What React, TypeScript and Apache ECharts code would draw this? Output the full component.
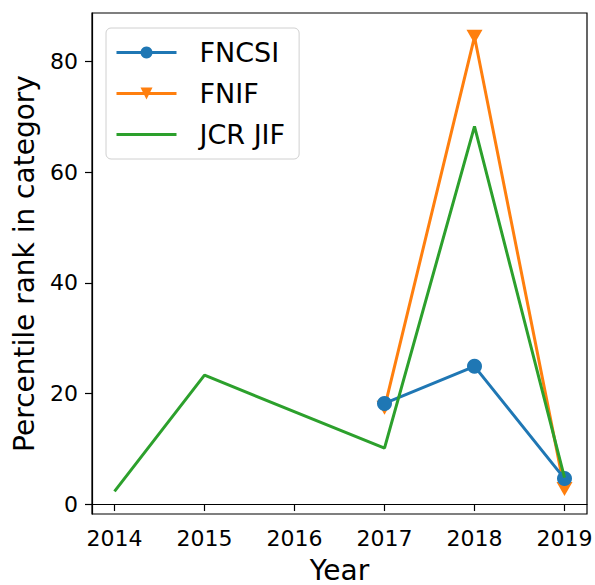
import React, { useEffect, useRef } from "react";
import * as echarts from "echarts";

const years = [2014, 2015, 2016, 2017, 2018, 2019];
const yTicks = [0, 20, 40, 60, 80];
const fncsi: [number, number][] = [
  [2017, 18.2],
  [2018, 24.9],
  [2019, 4.6],
];
const fnif: [number, number][] = [
  [2017, 17.4],
  [2018, 84.5],
  [2019, 2.7],
];
const jcrJif: [number, number][] = [
  [2014, 2.3],
  [2015, 23.3],
  [2017, 10.1],
  [2018, 68.3],
  [2019, 4.8],
];

const FONT = "DejaVu Sans";

export default function App() {
  const ref = useRef<HTMLDivElement>(null);
  useEffect(() => {
    if (!ref.current) return;
    const chart = echarts.init(ref.current, null, { renderer: "svg" });
    chart.setOption({
      animation: false,
      textStyle: { fontFamily: FONT },
      grid: {
        left: 92,
        right: 8,
        top: 13,
        bottom: 71,
        containLabel: false,
        outerBoundsMode: "none",
        show: true,
        borderColor: "#000",
        borderWidth: 1.2,
        backgroundColor: "#fff",
      },
      legend: {
        orient: "vertical",
        left: 106,
        top: 28,
        padding: [11, 14, 11, 9],
        itemWidth: 60,
        itemHeight: 15,
        itemGap: 14,
        borderColor: "#d0d0d0",
        borderWidth: 1,
        borderRadius: 5,
        backgroundColor: "rgba(255,255,255,0.8)",
        lineStyle: { width: 3 },
        textStyle: { fontSize: 27, color: "#000", fontFamily: FONT, padding: [0, 0, 0, 18] },
        data: [
          { name: "FNCSI" },
          { name: "FNIF" },
          { name: "JCR JIF", itemStyle: { opacity: 0 } },
        ],
      },
      xAxis: {
        type: "value",
        min: 2013.75,
        max: 2019.25,
        name: "Year",
        nameLocation: "middle",
        nameGap: 42,
        nameTextStyle: { fontSize: 28, color: "#000", fontFamily: FONT, lineHeight: 28 },
        splitLine: { show: false },
        axisLine: { show: true, lineStyle: { color: "#000", width: 1.2 } },
        axisTick: {
          show: true,
          length: 7,
          inside: false,
          customValues: years,
          lineStyle: { color: "#000", width: 1.2 },
        },
        axisLabel: {
          customValues: years,
          fontSize: 22,
          color: "#000",
          margin: 13,
          fontFamily: FONT,
          formatter: (v: number) => String(Math.round(v)),
        },
      },
      yAxis: {
        type: "value",
        min: -1.8,
        max: 88.8,
        name: "Percentile rank in category",
        nameLocation: "middle",
        nameGap: 54,
        nameTextStyle: { fontSize: 28, color: "#000", fontFamily: FONT },
        splitLine: { show: false },
        axisLine: { show: true, lineStyle: { color: "#000", width: 1.2 } },
        axisTick: {
          show: true,
          length: 7,
          customValues: yTicks,
          lineStyle: { color: "#000", width: 1.2 },
        },
        axisLabel: {
          customValues: yTicks,
          fontSize: 22,
          color: "#000",
          margin: 14,
          fontFamily: FONT,
        },
      },
      series: [
        {
          name: "FNCSI",
          type: "line",
          data: fncsi,
          symbol: "circle",
          symbolSize: 15,
          lineStyle: { color: "#1f77b4", width: 3 },
          itemStyle: { color: "#1f77b4" },
          z: 3,
        },
        {
          name: "FNIF",
          type: "line",
          data: fnif,
          symbol: "triangle",
          symbolRotate: 180,
          symbolSize: [16, 14],
          lineStyle: { color: "#ff7f0e", width: 3 },
          itemStyle: { color: "#ff7f0e" },
          z: 2,
        },
        {
          name: "JCR JIF",
          type: "line",
          data: jcrJif,
          symbol: "none",
          lineStyle: { color: "#2ca02c", width: 3 },
          itemStyle: { color: "#2ca02c" },
          z: 4,
        },
      ],
    });
    return () => chart.dispose();
  }, []);
  return <div ref={ref} style={{ width: 595, height: 585, position: "absolute", left: 0, top: 0 }} />;
}
